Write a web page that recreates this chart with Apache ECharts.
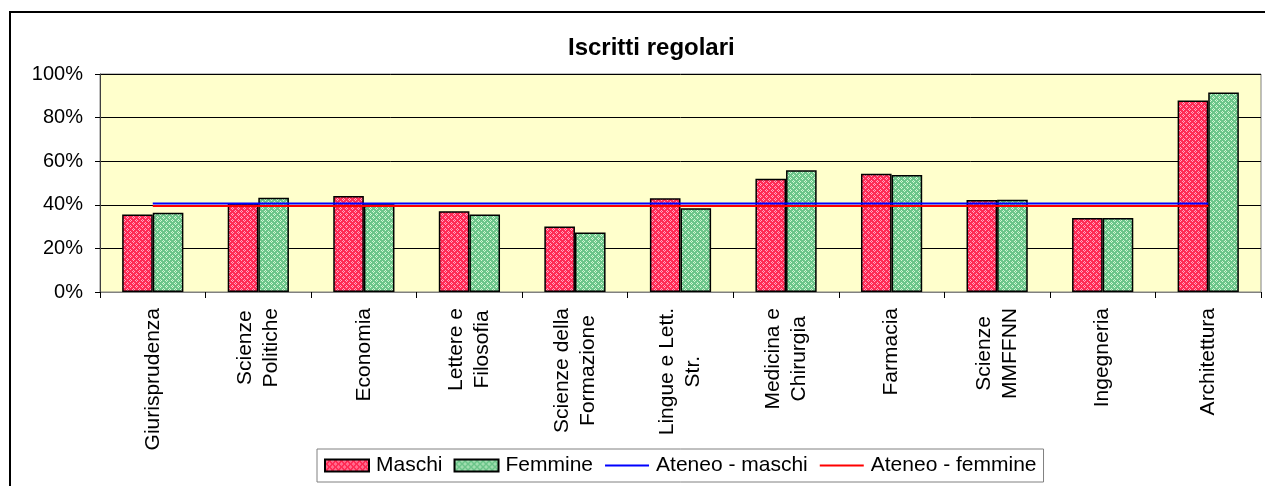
<!DOCTYPE html>
<html>
<head>
<meta charset="utf-8">
<script src="https://cdn.jsdelivr.net/npm/echarts@6/dist/echarts.min.js"></script>
<style>
  html, body {margin: 0; padding: 0; background: #fff;}
  #chart {width: 1265px; height: 486px;}
</style>
</head>
<body>
<div id="chart"></div>
<script>
// facoltà
const categories = [
  "Giurisprudenza",
  "Scienze\nPolitiche",
  "Economia",
  "Lettere e\nFilosofia",
  "Scienze della\nFormazione",
  "Lingue e Lett.\nStr.",
  "Medicina e\nChirurgia",
  "Farmacia",
  "Scienze\nMMFFNN",
  "Ingegneria",
  "Architettura",
];
const maschi = [35.6, 40.7, 44.0, 37.0, 30.1, 43.0, 52.0, 54.3, 42.2, 33.9, 87.9];
const femmine = [36.3, 43.2, 40.2, 35.6, 27.3, 38.4, 55.8, 53.7, 42.3, 33.9, 91.5];
const ateneoMaschi = [40.6, 40.6, 40.6, 40.6, 40.6, 40.6, 40.6, 40.6, 40.6, 40.6, 40.6];
const ateneoFemmine = [39.5, 39.5, 39.5, 39.5, 39.5, 39.5, 39.5, 39.5, 39.5, 39.5, 39.5];
const yTicks = [0, 20, 40, 60, 80, 100];

const FONT = "'Liberation Sans', Arial, sans-serif";

// retino tipo excel
function makePattern(base, light) {
  const c = document.createElement("canvas");
  c.width = 6;
  c.height = 6;
  const ctx = c.getContext("2d");
  ctx.fillStyle = base;
  ctx.fillRect(0, 0, 6, 6);
  ctx.fillStyle = light;
  [[1, 0], [0, 1], [2, 1], [1, 2], [4, 3], [3, 4], [5, 4], [4, 5]].forEach(p => {
    ctx.fillRect(p[0], p[1], 1, 1);
  });
  return {image: c, repeat: "repeat"};
}
const redFill = makePattern("#ff2b55", "#ffa8c4");
const greenFill = makePattern("#6cc58a", "#d4f7d4");

const chart = echarts.init(document.getElementById("chart"));

const option = {
  animation: false,
  backgroundColor: "#ffffff",
  textStyle: {fontFamily: FONT},
  graphic: [
    {
      type: "rect",
      shape: {x: 10, y: 12, width: 1300, height: 520},
      style: {fill: "none", stroke: "#000", lineWidth: 2},
      silent: true,
    },
  ],
  title: {
    text: "Iscritti regolari",
    left: 568,
    top: 36,
    padding: 0,
    textStyle: {fontFamily: FONT, fontSize: 24, fontWeight: "bold", color: "#000"},
  },
  legend: {
    left: 317,
    top: 449,
    padding: [6, 7, 6, 7],
    itemGap: 11,
    itemWidth: 44,
    itemHeight: 12,
    borderColor: "#808080",
    borderWidth: 1,
    textStyle: {fontFamily: FONT, fontSize: 21, color: "#000", padding: [0, 0, 0, 2]},
    data: [
      {name: "Maschi", icon: "rect"},
      {name: "Femmine", icon: "rect"},
      {name: "Ateneo - maschi", icon: "line", itemStyle: {color: "#0000ff", borderColor: "#0000ff", borderWidth: 2}},
      {name: "Ateneo - femmine", icon: "line", itemStyle: {color: "#ff0000", borderColor: "#ff0000", borderWidth: 2}},
    ],
  },
  grid: {
    left: 100,
    right: 4,
    top: 74,
    bottom: 194,
    show: true,
    backgroundColor: "#ffffcc",
    borderColor: "#808080",
    borderWidth: 1,
  },
  xAxis: {
    type: "category",
    data: categories,
    boundaryGap: true,
    axisLine: {lineStyle: {color: "#808080", width: 1}},
    axisTick: {show: true, interval: 0, length: 6, lineStyle: {color: "#000"}},
    axisLabel: {
      interval: 0,
      rotate: 90,
      margin: 16,
      fontFamily: FONT,
      fontSize: 21,
      lineHeight: 26,
      color: "#000",
      formatter: v => v.split("\n").map(s => "{c|" + s + "}").join("\n"),
      rich: {c: {align: "center", fontSize: 21, lineHeight: 26, fontFamily: FONT}},
    },
  },
  yAxis: {
    type: "value",
    min: yTicks[0],
    max: yTicks[yTicks.length - 1],
    interval: 20,
    axisLine: {show: true, lineStyle: {color: "#404040", width: 1}},
    axisTick: {show: true, length: 5, lineStyle: {color: "#000"}},
    axisLabel: {margin: 17, fontFamily: FONT, fontSize: 20, color: "#000", formatter: "{value}%"},
    splitLine: {show: true, lineStyle: {color: "#000", width: 1}},
  },
  series: [
    {
      name: "Maschi",
      type: "bar",
      data: maschi,
      barGap: "0%",
      barCategoryGap: "42%",
      itemStyle: {color: redFill, borderColor: "#000", borderWidth: 1.5},
      z: 2,
    },
    {
      name: "Femmine",
      type: "bar",
      data: femmine,
      itemStyle: {color: greenFill, borderColor: "#000", borderWidth: 1.5},
      z: 2,
    },
    {
      name: "Ateneo - maschi",
      type: "line",
      data: ateneoMaschi,
      symbol: "none",
      lineStyle: {color: "#0000ff", width: 2},
      itemStyle: {color: "#0000ff"},
      z: 5,
    },
    {
      name: "Ateneo - femmine",
      type: "line",
      data: ateneoFemmine,
      symbol: "none",
      lineStyle: {color: "#ff0000", width: 2},
      itemStyle: {color: "#ff0000"},
      z: 5,
    },
  ],
};

chart.setOption(option);
</script>
</body>
</html>
